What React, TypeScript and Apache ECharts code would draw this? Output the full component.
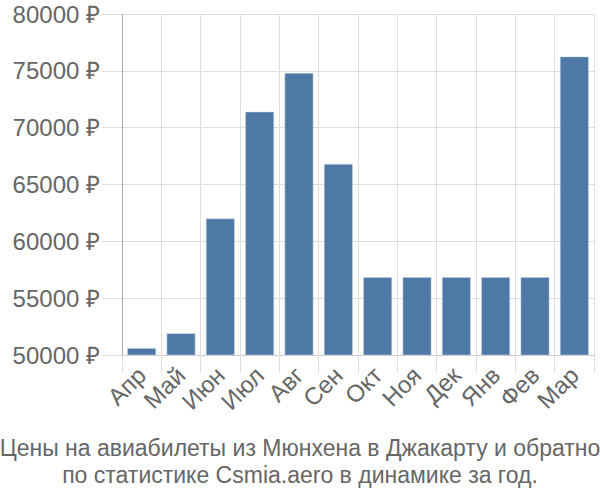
import React, { useEffect, useRef } from "react";
import * as echarts from "echarts";

const categories = ["Апр", "Май", "Июн", "Июл", "Авг", "Сен", "Окт", "Ноя", "Дек", "Янв", "Фев", "Мар"];
const prices = [50600, 51900, 62000, 71400, 74800, 66800, 56850, 56850, 56850, 56850, 56850, 76250];
const titleLines = [
  "Цены на авиабилеты из Мюнхена в Джакарту и обратно",
  "по статистике Csmia.aero в динамике за год.",
];

export default function App() {
  const ref = useRef<HTMLDivElement>(null);
  useEffect(() => {
    if (!ref.current) return;
    const chart = echarts.init(ref.current, undefined, { renderer: "svg" });
    const font = "'Liberation Sans', Arial, sans-serif";
    chart.setOption({
      animation: false,
      textStyle: { fontFamily: font },
      title: {
        text: titleLines.join("\n"),
        left: "center",
        top: 429,
        textStyle: { fontFamily: font, fontSize: 23, fontWeight: "normal", color: "#666", lineHeight: 27 },
      },
      grid: { left: 122, right: 6, top: 14, bottom: 145, containLabel: false },
      xAxis: {
        type: "category",
        data: categories,
        axisLine: { lineStyle: { color: "#ccc", width: 1 } },
        axisTick: { show: true, length: 18, interval: 0, lineStyle: { color: "#ddd" } },
        splitLine: { show: true, interval: 0, lineStyle: { color: "#ddd" } },
        axisLabel: { rotate: 45, interval: 0, fontSize: 24, color: "#666", fontFamily: font, margin: 16 },
      },
      yAxis: {
        type: "value",
        min: 50000,
        max: 80000,
        interval: 5000,
        axisLine: { show: true, lineStyle: { color: "#aaa", width: 1 } },
        axisTick: { show: true, length: 20, lineStyle: { color: "#ddd" } },
        splitLine: { show: true, lineStyle: { color: "#ddd" } },
        axisLabel: {
          fontSize: 24,
          color: "#666",
          fontFamily: font,
          margin: 22,
          formatter: (v: number) => `${v} ₽`,
        },
      },
      series: [
        {
          type: "bar",
          data: prices,
          barWidth: "73%",
          itemStyle: { color: "#4e79a7", borderColor: "#c9d6e6", borderWidth: 0.5 },
        },
      ],
    });
    return () => chart.dispose();
  }, []);
  return <div ref={ref} style={{ width: 600, height: 500, position: "absolute", left: 0, top: 0 }} />;
}
